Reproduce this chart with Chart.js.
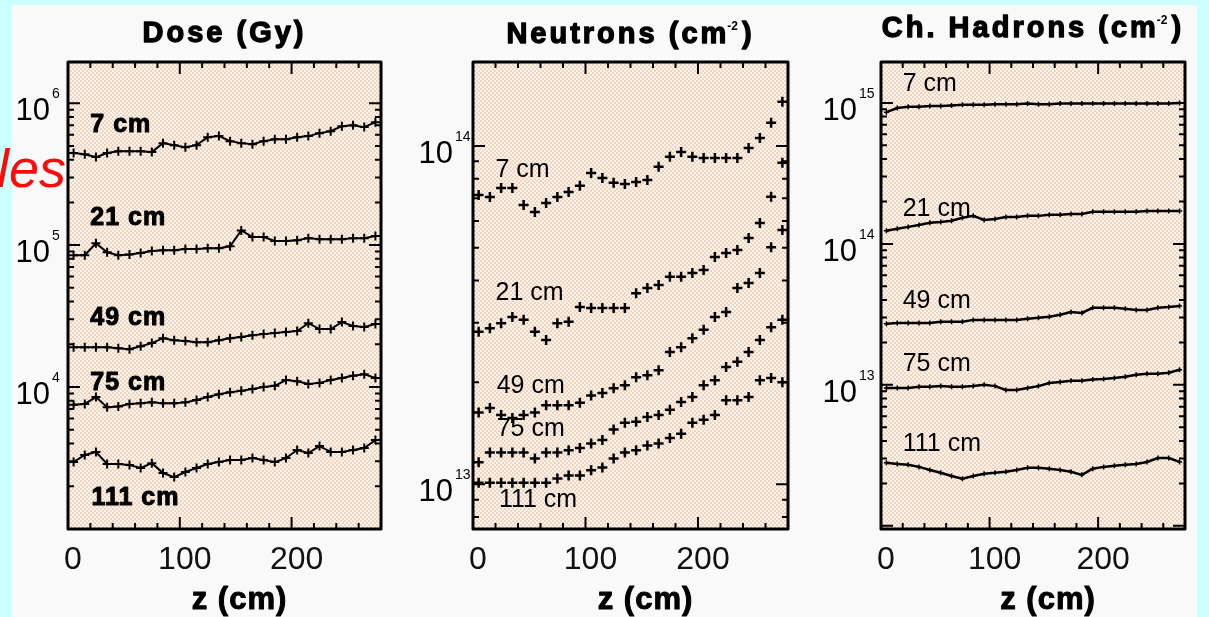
<!DOCTYPE html>
<html>
<head>
<meta charset="utf-8">
<script src="https://cdn.jsdelivr.net/npm/chart.js@4.4.1/dist/chart.umd.min.js"></script>
<style>
  html, body { margin: 0; padding: 0; }
  body { width: 1209px; height: 617px; background: #ccffff; position: relative; overflow: hidden; }
  #sheet { position: absolute; left: 12px; top: 5px; width: 1185px; height: 612px; background: #f9f9f9; overflow: hidden; }
  #sheet canvas { position: absolute; top: -5px; }
  #cut { position: absolute; left: -3px; top: 141px; font: italic 54px "Liberation Sans", Arial, sans-serif; line-height: 54px; color: #ff0a0a; }
</style>
</head>
<body>
<div id="sheet">
  <canvas id="dose" width="400" height="617" style="left:0"></canvas>
  <canvas id="neutrons" width="400" height="617" style="left:400px"></canvas>
  <canvas id="hadrons" width="385" height="617" style="left:800px"></canvas>
</div>
<div id="cut">les</div>
<script>
// === Data ===
const zBins = [5, 15, 25, 35, 45, 55, 65, 75, 85, 95, 105, 115, 125, 135,
  145, 155, 165, 175, 185, 195, 205, 215, 225, 235, 245, 255, 265, 275];
const zTickLabels = [0, 100, 200];
const depthLabels = ["7 cm", "21 cm", "49 cm", "75 cm", "111 cm"];

// Dose (Gy)
const dose7 = [4.45e5, 4.37e5, 4.17e5, 4.45e5, 4.59e5, 4.59e5, 4.59e5, 4.52e5, 5.23e5, 5.06e5, 4.90e5, 5.06e5, 5.76e5, 5.86e5,
  5.40e5, 5.23e5, 5.14e5, 5.40e5, 5.57e5, 5.57e5, 5.76e5, 5.86e5, 6.15e5, 6.35e5, 6.89e5, 7.00e5, 6.78e5, 7.35e5];
const dose21 = [8.5e4, 8.5e4, 1.03e5, 8.9e4, 8.5e4, 8.6e4, 8.8e4, 9.1e4, 9.2e4, 9.2e4, 9.4e4, 9.4e4, 9.5e4, 9.5e4,
  9.8e4, 1.27e5, 1.14e5, 1.14e5, 1.07e5, 1.07e5, 1.08e5, 1.12e5, 1.10e5, 1.10e5, 1.10e5, 1.12e5, 1.12e5, 1.16e5];
const dose49 = [1.91e4, 1.91e4, 1.91e4, 1.91e4, 1.88e4, 1.85e4, 1.94e4, 2.04e4, 2.21e4, 2.14e4, 2.11e4, 2.07e4, 2.07e4, 2.14e4,
  2.21e4, 2.25e4, 2.32e4, 2.36e4, 2.40e4, 2.44e4, 2.48e4, 2.82e4, 2.56e4, 2.56e4, 2.87e4, 2.69e4, 2.65e4, 2.78e4];
const dose75 = [7.5e3, 7.6e3, 8.5e3, 7.2e3, 7.3e3, 7.6e3, 7.7e3, 7.8e3, 7.7e3, 7.7e3, 7.8e3, 8.1e3, 8.5e3, 8.9e3,
  9.2e3, 9.4e3, 9.7e3, 1.0e4, 1.02e4, 1.12e4, 1.10e4, 1.05e4, 1.07e4, 1.12e4, 1.16e4, 1.20e4, 1.23e4, 1.16e4];
const dose111 = [2.96e3, 3.32e3, 3.49e3, 2.87e3, 2.87e3, 2.82e3, 2.69e3, 2.91e3, 2.48e3, 2.32e3, 2.52e3, 2.69e3, 2.87e3, 2.96e3,
  3.06e3, 3.06e3, 3.16e3, 3.06e3, 2.96e3, 3.16e3, 3.60e3, 3.43e3, 3.84e3, 3.49e3, 3.49e3, 3.60e3, 3.72e3, 4.23e3];
const doseLabelZ = [20, 20, 20, 20, 21];
const doseLabelY = [7.0e5, 1.55e5, 3.06e4, 1.07e4, 1.65e3];

// Neutrons (cm-2)
const neut7 = [7.16e13, 7.06e13, 7.51e13, 7.51e13, 6.69e13, 6.38e13, 6.78e13, 7.06e13, 7.31e13, 7.62e13, 8.32e13, 8.04e13, 7.78e13, 7.72e13,
  7.82e13, 7.93e13, 8.67e13, 9.28e13, 9.60e13, 9.28e13, 9.21e13, 9.21e13, 9.21e13, 9.21e13, 9.86e13, 1.056e14, 1.17e14, 1.35e14];
const neut21 = [2.82e13, 2.89e13, 2.99e13, 3.12e13, 3.06e13, 2.82e13, 2.67e13, 2.99e13, 3.02e13, 3.34e13, 3.32e13, 3.32e13, 3.32e13, 3.32e13,
  3.67e13, 3.80e13, 3.88e13, 4.10e13, 4.10e13, 4.21e13, 4.30e13, 4.69e13, 4.82e13, 4.92e13, 5.34e13, 5.92e13, 7.07e13, 8.91e13];
const neut49 = [1.63e13, 1.68e13, 1.60e13, 1.57e13, 1.60e13, 1.63e13, 1.71e13, 1.71e13, 1.71e13, 1.74e13, 1.83e13, 1.86e13, 1.92e13, 1.96e13,
  2.07e13, 2.10e13, 2.17e13, 2.46e13, 2.54e13, 2.70e13, 2.86e13, 3.12e13, 3.23e13, 3.80e13, 3.93e13, 4.21e13, 5.02e13, 5.64e13];
const neut75 = [1.16e13, 1.24e13, 1.24e13, 1.24e13, 1.24e13, 1.19e13, 1.24e13, 1.24e13, 1.26e13, 1.28e13, 1.32e13, 1.35e13, 1.45e13, 1.52e13,
  1.53e13, 1.58e13, 1.60e13, 1.66e13, 1.75e13, 1.81e13, 1.96e13, 2.03e13, 2.22e13, 2.30e13, 2.46e13, 2.67e13, 2.91e13, 3.06e13];
const neut111 = [1.01e13, 1.01e13, 1.01e13, 1.01e13, 1.01e13, 1.01e13, 1.01e13, 1.04e13, 1.06e13, 1.06e13, 1.10e13, 1.12e13, 1.19e13, 1.24e13,
  1.26e13, 1.30e13, 1.32e13, 1.37e13, 1.41e13, 1.52e13, 1.55e13, 1.60e13, 1.77e13, 1.77e13, 1.81e13, 2.03e13, 2.06e13, 2.00e13];
const neutLabelZ = [20, 20, 21, 21, 23];
const neutLabelY = [8.49e13, 3.67e13, 1.95e13, 1.45e13, 8.98e12];

// Ch. Hadrons (cm-2)
const had7 = [8.6e14, 9.2e14, 9.4e14, 9.4e14, 9.5e14, 9.5e14, 9.6e14, 9.7e14, 9.7e14, 9.7e14, 9.8e14, 9.8e14, 9.8e14, 9.9e14,
  9.8e14, 9.8e14, 9.9e14, 9.9e14, 9.9e14, 9.9e14, 9.9e14, 9.9e14, 9.9e14, 9.9e14, 9.9e14, 9.9e14, 9.9e14, 1.0e15];
const had21 = [1.24e14, 1.28e14, 1.32e14, 1.36e14, 1.41e14, 1.43e14, 1.46e14, 1.53e14, 1.58e14, 1.48e14, 1.50e14, 1.55e14, 1.55e14, 1.58e14,
  1.58e14, 1.61e14, 1.61e14, 1.63e14, 1.63e14, 1.69e14, 1.69e14, 1.69e14, 1.69e14, 1.69e14, 1.71e14, 1.71e14, 1.71e14, 1.71e14];
const had49 = [2.71e13, 2.75e13, 2.75e13, 2.75e13, 2.75e13, 2.80e13, 2.80e13, 2.80e13, 2.89e13, 2.89e13, 2.89e13, 2.89e13, 2.89e13, 2.94e13,
  2.99e13, 3.04e13, 3.14e13, 3.29e13, 3.24e13, 3.52e13, 3.52e13, 3.52e13, 3.46e13, 3.40e13, 3.40e13, 3.52e13, 3.57e13, 3.63e13];
const had75 = [9.5e12, 9.5e12, 9.5e12, 9.7e12, 9.7e12, 9.8e12, 9.7e12, 9.7e12, 9.8e12, 1.0e13, 9.8e12, 9.2e12, 9.2e12, 9.5e12,
  9.8e12, 1.03e13, 1.05e13, 1.07e13, 1.07e13, 1.09e13, 1.10e13, 1.12e13, 1.14e13, 1.18e13, 1.20e13, 1.20e13, 1.22e13, 1.28e13];
const had111 = [2.80e12, 2.75e12, 2.71e12, 2.62e12, 2.49e12, 2.38e12, 2.26e12, 2.16e12, 2.26e12, 2.34e12, 2.38e12, 2.42e12, 2.49e12, 2.58e12,
  2.58e12, 2.54e12, 2.49e12, 2.42e12, 2.30e12, 2.54e12, 2.62e12, 2.67e12, 2.71e12, 2.75e12, 2.84e12, 3.03e12, 3.03e12, 2.84e12];
const hadLabelZ = [20, 20, 20, 20, 20];
const hadLabelY = [1.36e15, 1.77e14, 3.94e13, 1.41e13, 3.82e12];

// === Helpers ===
const FONT = '"Liberation Sans", Arial, sans-serif';

function logTicks(min, max) {
  const ticks = [];
  for (let e = Math.floor(Math.log10(min)); e <= Math.ceil(Math.log10(max)); e++) {
    for (let m = 1; m <= 9; m++) {
      const v = m * Math.pow(10, e);
      if (v >= min * 0.999 && v <= max * 1.001) ticks.push({ value: v, major: m === 1 });
    }
  }
  return ticks;
}

function checkerPattern(ctx) {
  const c = document.createElement("canvas");
  c.width = 4; c.height = 4;
  const p = c.getContext("2d");
  p.fillStyle = "#fcf4ec";
  p.fillRect(0, 0, 4, 4);
  p.fillStyle = "#efd6c0";
  p.fillRect(0, 0, 2, 2);
  p.fillRect(2, 2, 2, 2);
  return ctx.createPattern(c, "repeat");
}

// heavy text: fill plus a thin stroke, like the scanned bold lettering
function heavyText(ctx, txt, x, y, stroke) {
  ctx.fillText(txt, x, y);
  if (stroke) {
    ctx.lineWidth = stroke;
    ctx.strokeText(txt, x, y);
  }
}

// === Frame, ticks and texts drawn on the scales ===
function makeDecor(cfg) {
  return {
    id: "decor",
    beforeDraw(chart) {
      const { ctx, chartArea: a } = chart;
      ctx.save();
      ctx.fillStyle = checkerPattern(ctx);
      ctx.fillRect(a.left, a.top, a.right - a.left, a.bottom - a.top);
      ctx.restore();
    },
    afterDraw(chart) {
      const { ctx, chartArea: a, scales: { x, y } } = chart;
      ctx.save();
      ctx.strokeStyle = "#000";
      ctx.fillStyle = "#000";
      ctx.lineJoin = "round";

      // inward ticks on all four sides
      ctx.lineWidth = 2;
      ctx.beginPath();
      x.ticks.forEach(t => {
        const px = x.getPixelForValue(t.value);
        const len = t.value % 100 === 0 ? 12 : 6;
        ctx.moveTo(px, a.bottom); ctx.lineTo(px, a.bottom - len);
        ctx.moveTo(px, a.top); ctx.lineTo(px, a.top + len);
      });
      y.ticks.forEach(t => {
        const py = y.getPixelForValue(t.value);
        const len = t.major ? 12 : 6;
        ctx.moveTo(a.left, py); ctx.lineTo(a.left + len, py);
        ctx.moveTo(a.right, py); ctx.lineTo(a.right - len, py);
      });
      ctx.stroke();

      ctx.lineWidth = 3;
      ctx.strokeRect(a.left, a.top, a.right - a.left, a.bottom - a.top);

      // decade labels 10^n
      y.ticks.filter(t => t.major).forEach(t => {
        const py = y.getPixelForValue(t.value);
        if (py < a.top + 10 || py > a.bottom - 10) return;
        const rx = a.left - cfg.labelGap;
        ctx.font = `31px ${FONT}`;
        ctx.textAlign = "right";
        ctx.textBaseline = "alphabetic";
        ctx.fillText("10", rx, py + 17);
        ctx.font = `14px ${FONT}`;
        ctx.textAlign = "left";
        ctx.fillText(String(Math.round(Math.log10(t.value))), rx + 2, py - 5);
      });

      // depth labels
      ctx.font = cfg.labelFont;
      ctx.letterSpacing = cfg.labelSpacing;
      ctx.textAlign = "left";
      ctx.textBaseline = "middle";
      depthLabels.forEach((txt, i) => {
        heavyText(ctx, txt, x.getPixelForValue(cfg.labelZ[i]), y.getPixelForValue(cfg.labelY[i]), cfg.labelStroke);
      });

      // panel title
      const bigFont = `bold 29px ${FONT}`;
      const supFont = `bold 12px ${FONT}`;
      ctx.textBaseline = "alphabetic";
      ctx.font = bigFont;
      ctx.letterSpacing = "3px";
      const [t1, sup, t2] = cfg.title;
      const w1 = ctx.measureText(t1).width;
      const w3 = ctx.measureText(t2).width;
      ctx.font = supFont;
      ctx.letterSpacing = "0px";
      const w2 = sup ? ctx.measureText(sup).width + 2 : 0;
      let tx = (a.left + a.right) / 2 - (w1 + w2 + w3) / 2;
      ctx.font = bigFont;
      ctx.letterSpacing = "3px";
      heavyText(ctx, t1, tx, cfg.titleBase, 1.3);
      tx += w1;
      if (sup) {
        ctx.font = supFont;
        ctx.letterSpacing = "0px";
        ctx.fillText(sup, tx - 2, cfg.titleBase - 13);
        tx += w2;
        ctx.font = bigFont;
        ctx.letterSpacing = "3px";
      }
      heavyText(ctx, t2, tx, cfg.titleBase, 1.3);

      // axis title
      ctx.font = `bold 31px ${FONT}`;
      ctx.letterSpacing = "1px";
      ctx.textAlign = "center";
      heavyText(ctx, "z (cm)", (a.left + a.right) / 2 + 15, a.bottom + 80, 1);
      ctx.restore();
    }
  };
}

function makePanel(id, cfg) {
  const datasets = cfg.series.map(vals => ({
    data: zBins.map((z, i) => ({ x: z, y: vals[i] })),
    showLine: cfg.line,
    borderColor: "#000",
    borderWidth: cfg.lineWidth,
    pointStyle: "cross",
    pointRadius: cfg.pointRadius,
    pointBorderWidth: cfg.pointWidth,
    pointBorderColor: "#000",
    pointBackgroundColor: "#000",
    tension: 0
  }));

  return new Chart(document.getElementById(id), {
    type: "scatter",
    data: { datasets },
    options: {
      responsive: false,
      animation: false,
      devicePixelRatio: 1,
      layout: { padding: { top: 62, right: cfg.rightPad, left: 0, bottom: 0 } },
      plugins: { legend: { display: false }, tooltip: { enabled: false } },
      scales: {
        x: {
          type: "linear",
          min: 0,
          max: 280,
          grid: { display: false, drawTicks: false },
          border: { display: false },
          afterFit: s => { s.height = 88; },
          ticks: {
            stepSize: 20,
            autoSkip: false,
            maxRotation: 0,
            minRotation: 0,
            padding: 12,
            labelOffset: 5,
            color: "#111",
            font: { family: FONT, size: 32 },
            callback: v => (zTickLabels.includes(v) ? String(v) : "")
          }
        },
        y: {
          type: "logarithmic",
          min: cfg.yMin,
          max: cfg.yMax,
          grid: { display: false, drawTicks: false },
          border: { display: false },
          ticks: { display: false },
          afterBuildTicks: s => { s.ticks = logTicks(cfg.yMin, cfg.yMax); },
          afterFit: s => { s.width = cfg.axisW; }
        }
      }
    },
    plugins: [makeDecor(cfg)]
  });
}

// === Panels ===
makePanel("dose", {
  series: [dose7, dose21, dose49, dose75, dose111],
  yMin: 1e3, yMax: 1.95e6,
  axisW: 56, rightPad: 31, labelGap: 18,
  line: true, lineWidth: 2, pointRadius: 4.5, pointWidth: 2,
  labelZ: doseLabelZ, labelY: doseLabelY,
  labelFont: `bold 25px ${FONT}`, labelSpacing: "1px", labelStroke: 1,
  title: ["Dose (Gy)", "", ""], titleBase: 42
});

makePanel("neutrons", {
  series: [neut7, neut21, neut49, neut75, neut111],
  yMin: 7.37e12, yMax: 1.77e14,
  axisW: 61, rightPad: 24, labelGap: 20,
  line: false, lineWidth: 0, pointRadius: 5, pointWidth: 2.5,
  labelZ: neutLabelZ, labelY: neutLabelY,
  labelFont: `25px ${FONT}`, labelSpacing: "0px", labelStroke: 0,
  title: ["Neutrons (cm", "-2", ")"], titleBase: 43
});

makePanel("hadrons", {
  series: [had7, had21, had49, had75, had111],
  yMin: 9.5e11, yMax: 1.95e15,
  axisW: 69, rightPad: 6, labelGap: 24,
  line: true, lineWidth: 2.5, pointRadius: 2.5, pointWidth: 1.5,
  labelZ: hadLabelZ, labelY: hadLabelY,
  labelFont: `25px ${FONT}`, labelSpacing: "0px", labelStroke: 0,
  title: ["Ch. Hadrons (cm", "-2", ")"], titleBase: 37
});
</script>
</body>
</html>
